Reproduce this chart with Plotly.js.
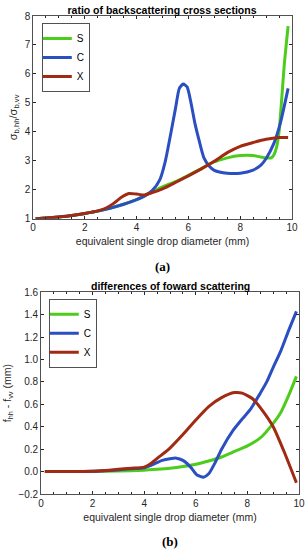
<!DOCTYPE html>
<html>
<head>
<meta charset="utf-8">
<script src="https://cdn.plot.ly/plotly-3.0.1.min.js"></script>
<style>html,body{margin:0;padding:0;background:#fff;}#chart{width:308px;height:550px;}</style>
</head>
<body>
<div id="chart"></div>
<script>
// ---- data: ratio of backscattering cross sections (panel a) ----
const seriesNames = ["S", "C", "X"];
const topS_d = [0.1,0.5,1,1.5,2,2.5,3,3.5,4,4.5,5,5.5,6,6.5,7,7.5,8,8.5,8.8,9.0,9.2,9.3,9.4,9.5,9.6,9.7,9.85];
const topS_v = [1,1.02,1.06,1.11,1.18,1.26,1.37,1.5,1.66,1.88,2.1,2.28,2.5,2.73,2.96,3.1,3.18,3.18,3.13,3.1,3.1,3.2,3.45,4.0,5.1,6.3,7.65];
const topC_d = [0.1,0.5,1,1.5,2,2.5,3,3.5,4,4.3,4.6,4.9,5.1,5.3,5.5,5.65,5.8,5.95,6.1,6.25,6.4,6.6,6.8,7.0,7.5,8.0,8.5,8.8,9.0,9.3,9.55,9.85];
const topC_v = [1,1.02,1.06,1.11,1.18,1.26,1.37,1.5,1.66,1.78,1.97,2.35,2.95,3.85,4.8,5.5,5.65,5.55,5.0,4.3,3.75,3.1,2.82,2.67,2.57,2.57,2.68,2.85,3.08,3.6,4.3,5.5];
const topX_d = [0.1,0.5,1,1.5,2,2.5,2.8,3.1,3.4,3.7,4.0,4.3,4.6,5,5.5,6,6.5,7,7.5,8,8.5,9,9.5,9.85];
const topX_v = [1,1.02,1.06,1.11,1.18,1.27,1.36,1.52,1.73,1.87,1.85,1.82,1.9,2.03,2.25,2.48,2.72,2.98,3.28,3.5,3.63,3.74,3.8,3.8];

// ---- data: differences of forward scattering (panel b) ----
const botS_d = [0.15,1,2,3,4,4.5,5,5.5,6,6.5,7,7.5,8,8.5,9,9.3,9.6,9.9];
const botS_v = [0,0,0,0.005,0.012,0.02,0.03,0.045,0.065,0.095,0.13,0.18,0.23,0.3,0.43,0.53,0.68,0.85];
const botC_d = [0.15,1,2,3,3.5,4,4.3,4.7,5.0,5.25,5.5,5.8,6.05,6.3,6.5,6.75,7.0,7.45,7.8,8.1,8.5,8.75,9.0,9.3,9.6,9.9];
const botC_v = [0,0,0.003,0.015,0.025,0.035,0.06,0.1,0.115,0.12,0.1,0.04,-0.03,-0.05,-0.02,0.08,0.2,0.37,0.47,0.55,0.7,0.8,0.93,1.08,1.26,1.43];
const botX_d = [0.15,1,2,2.5,3,3.5,4,4.3,4.6,5,5.5,6,6.5,7,7.5,7.8,8.2,8.6,9,9.4,9.9];
const botX_v = [0,0,0.003,0.01,0.02,0.03,0.04,0.08,0.135,0.21,0.33,0.46,0.58,0.66,0.705,0.7,0.65,0.54,0.4,0.19,-0.1];

const xTicks = [0,2,4,6,8,10];
const yTicksTop = [1,2,3,4,5,6,7,8];
const yTicksBot = [-0.2,0,0.2,0.4,0.6,0.8,1.0,1.2,1.4,1.6];

const colors = {S:"#4ccc1c", C:"#2a4fc0", X:"#a02a12"};
const FONT = "Liberation Sans, Arial, sans-serif";
const AX = "#262626";

function tr(name, d, v, xa, ya, leg) {
  return {x:d, y:v, xaxis:xa, yaxis:ya, name:name, legend:leg, type:"scatter", mode:"lines",
    line:{color:colors[name], width:3, shape:"spline", smoothing:0.6}, showlegend:true};
}
const traces = [
  tr("S", topS_d, topS_v, "x", "y", "legend"),
  tr("C", topC_d, topC_v, "x", "y", "legend"),
  tr("X", topX_d, topX_v, "x", "y", "legend"),
  tr("S", botS_d, botS_v, "x2", "y2", "legend2"),
  tr("C", botC_d, botC_v, "x2", "y2", "legend2"),
  tr("X", botX_d, botX_v, "x2", "y2", "legend2")
];

function xax(domain, anchor) {
  return {domain:domain, anchor:anchor, range:[0,10], tickvals:xTicks, ticks:"inside", ticklen:3,
    tickcolor:AX, linecolor:AX, linewidth:0.8, mirror:"allticks", showgrid:false, zeroline:false,
    tickfont:{family:FONT, size:10, color:AX},
    minor:{dtick:0.5, ticks:"inside", ticklen:2, tickcolor:AX},
    title:{text:"equivalent single drop diameter (mm)", font:{family:FONT, size:10.5, color:AX}, standoff:5}};
}
function leg(x, y) {
  return {x:x, y:y, xanchor:"left", yanchor:"top", bgcolor:"#fff", bordercolor:AX, borderwidth:0.8,
    font:{family:FONT, size:10, color:"#000"}, itemwidth:30, tracegroupgap:0, indentation:-6};
}
const layout = {
  width:308, height:550, paper_bgcolor:"#fff", plot_bgcolor:"#fff",
  margin:{l:33, r:9, t:16, b:56},
  title:{text:"<b>ratio of backscattering cross sections</b>", font:{family:FONT, size:10.5, color:"#000"},
    x:162/308, xanchor:"center", y:1-10/550, yanchor:"middle"},
  xaxis: xax([0, 259/266], "y"),
  yaxis:{domain:[0.576,1], anchor:"x", range:[1,8], tickvals:yTicksTop, ticks:"inside", ticklen:3,
    tickcolor:AX, linecolor:AX, linewidth:0.8, mirror:"allticks", showgrid:false, zeroline:false,
    tickfont:{family:FONT, size:10, color:AX},
    title:{text:"σ<sub>b,hh</sub>/σ<sub>b,vv</sub>", font:{family:FONT, size:11, color:AX}, standoff:4}},
  xaxis2: xax([8/266, 1], "y2"),
  yaxis2:{domain:[0,0.422], anchor:"x2", range:[-0.2,1.6], tickvals:yTicksBot, tickformat:".1f", ticks:"inside", ticklen:3,
    tickcolor:AX, linecolor:AX, linewidth:0.8, mirror:"allticks", showgrid:false, zeroline:false,
    tickfont:{family:FONT, size:10, color:AX},
    title:{text:"f<sub>hh</sub> - f<sub>vv</sub> (mm)", font:{family:FONT, size:10.5, color:AX}, standoff:4}},
  legend: leg(9/266, 0.985),
  legend2: leg(16/266, 0.408),
  annotations:[
    {text:"<b>differences of foward scattering</b>", xref:"paper", yref:"paper", x:(170-33)/266, y:(494-286)/478,
     xanchor:"center", yanchor:"middle", showarrow:false, font:{family:FONT, size:10.5, color:"#000"}},
    {text:"<b>(a)</b>", xref:"paper", yref:"paper", x:(162-33)/266, y:(494-266)/478,
     xanchor:"center", yanchor:"middle", showarrow:false, font:{family:"Liberation Serif, Times New Roman, serif", size:13, color:"#000"}},
    {text:"<b>(b)</b>", xref:"paper", yref:"paper", x:(170-33)/266, y:(494-541.5)/478,
     xanchor:"center", yanchor:"middle", showarrow:false, font:{family:"Liberation Serif, Times New Roman, serif", size:13, color:"#000"}}
  ]
};
Plotly.newPlot("chart", traces, layout, {staticPlot:true, displayModeBar:false});
</script>
</body>
</html>
